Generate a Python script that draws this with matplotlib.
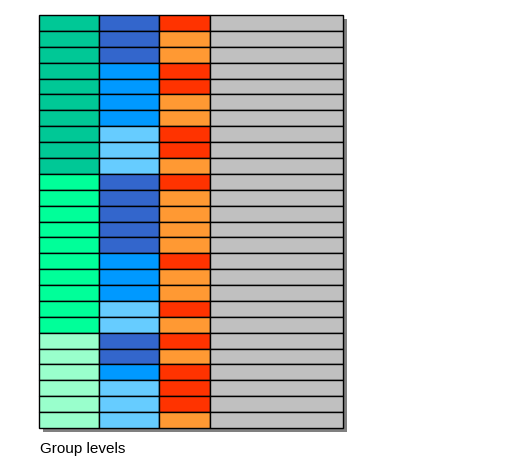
import matplotlib

matplotlib.use("Agg")

import matplotlib.pyplot as plt
from matplotlib.patches import Rectangle

# Niveles por fila (26 filas, de arriba a abajo)
nivel1 = ["a"] * 10 + ["b"] * 10 + ["c"] * 6
nivel2 = ["d", "d", "d", "m", "m", "m", "m", "l", "l", "l",
          "d", "d", "d", "d", "d", "m", "m", "m", "l", "l",
          "d", "d", "m", "l", "l", "l"]
nivel3 = ["r", "o", "o", "r", "r", "o", "o", "r", "r", "o",
          "r", "o", "o", "o", "o", "r", "o", "o", "r", "o",
          "r", "o", "r", "r", "r", "o"]

colores1 = {"a": "#00C896", "b": "#00FF99", "c": "#99FFCC"}
colores2 = {"d": "#3366CC", "m": "#0099FF", "l": "#66CCFF"}
colores3 = {"r": "#FF3300", "o": "#FF9933"}

W, H = 525, 477
fig = plt.figure(figsize=(W / 100, H / 100), dpi=100)
ax = fig.add_axes([0, 0, 1, 1])
ax.set_xlim(0, W)
ax.set_ylim(H, 0)
ax.axis("off")

x_cols = [39, 99, 159, 210, 343]
y0, y1 = 16, 429
n = len(nivel1)
alto = (y1 - y0) / n

# sombra
ax.add_patch(Rectangle((x_cols[0] + 4, y0 + 4), x_cols[-1] - x_cols[0], y1 - y0,
                       facecolor="#808080", edgecolor="none"))

for i in range(n):
    y = y0 + i * alto
    cols = [colores1[nivel1[i]], colores2[nivel2[i]], colores3[nivel3[i]], "#C0C0C0"]
    for j, c in enumerate(cols):
        ax.add_patch(Rectangle((x_cols[j], y), x_cols[j + 1] - x_cols[j], alto,
                               facecolor=c, edgecolor="black", linewidth=1))

ax.text(40, 449, "Group levels", fontsize=11, va="center", ha="left", family="Liberation Sans")

fig.savefig("out.png", dpi=100)
